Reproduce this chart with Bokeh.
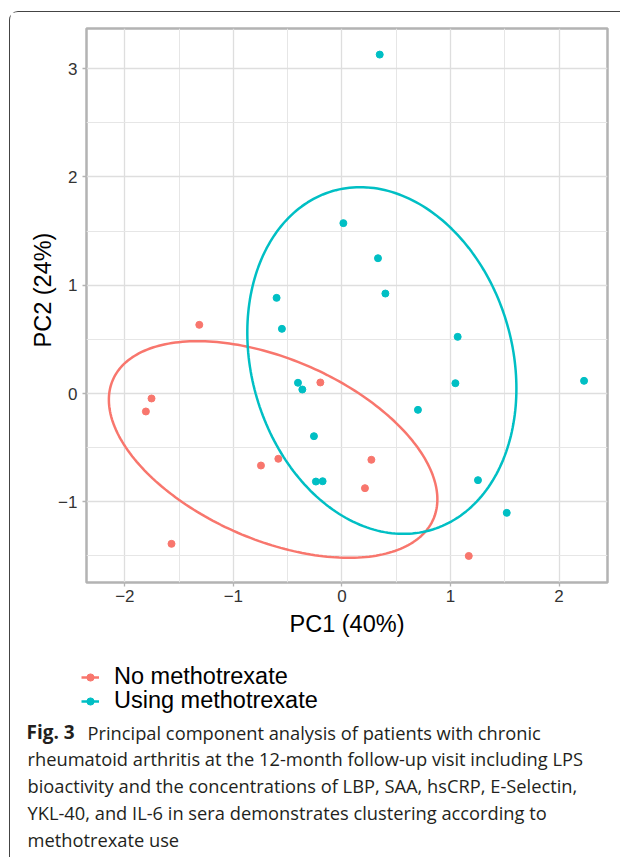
import numpy as np
from bokeh.plotting import figure
from bokeh.layouts import column
from bokeh.models import Range1d, FixedTicker, Legend, LegendItem, Title
from bokeh.core.properties import value
from bokeh.embed import file_html
from bokeh.resources import INLINE

# ---------------- data ----------------
group_labels = ["No methotrexate", "Using methotrexate"]
group_colors = ["#F8766D", "#00BFC4"]

no_mtx_pc1 = [-1.314, -1.754, -1.806, -0.199, -0.746, -0.586, 0.271, 0.212, -1.570, 1.168]
no_mtx_pc2 = [0.634, -0.046, -0.166, 0.102, -0.665, -0.603, -0.612, -0.874, -1.388, -1.500]

mtx_pc1 = [0.348, 0.013, 0.332, 0.400, -0.602, -0.553, 1.066, -0.405, -0.365,
           1.045, 2.230, 0.700, -0.258, -0.240, -0.178, 1.253, 1.518]
mtx_pc2 = [3.129, 1.573, 1.249, 0.923, 0.883, 0.597, 0.523, 0.099, 0.037,
           0.095, 0.117, -0.151, -0.394, -0.813, -0.810, -0.800, -1.102]

# 95% ellipses: centre and shape matrix [[sxx, sxy], [sxy, syy]]
no_mtx_ellipse = [-0.634, -0.517, 2.289, -0.695, 1.000]
mtx_ellipse = [0.3675, 0.3045, 1.536, -0.320, 2.562]

x_ticks = [-2, -1, 0, 1, 2]
x_tick_labels = ["\u22122", "\u22121", "0", "1", "2"]
x_minor = [-1.5, -0.5, 0.5, 1.5]
y_ticks = [-1, 0, 1, 2, 3]
y_tick_labels = ["\u22121", "0", "1", "2", "3"]
y_minor = [-1.5, -0.5, 0.5, 1.5, 2.5]

x_title = "PC1 (40%)"
y_title = "PC2 (24%)"

caption_bold = "Fig. 3"
caption_lines = [
    "Principal component analysis of patients with chronic",
    "rheumatoid arthritis at the 12-month follow-up visit including LPS",
    "bioactivity and the concentrations of LBP, SAA, hsCRP, E-Selectin,",
    "YKL-40, and IL-6 in sera demonstrates clustering according to",
    "methotrexate use",
]


def ellipse_path(params, n=240):
    cx, cy, sxx, sxy, syy = params
    L = np.linalg.cholesky(np.array([[sxx, sxy], [sxy, syy]]))
    t = np.linspace(0, 2 * np.pi, n)
    pts = L @ np.vstack([np.cos(t), np.sin(t)])
    return cx + pts[0], cy + pts[1]


def no_align(fig):
    try:
        fig.frame_align = False
    except Exception:
        pass


# ---------------- layout constants (page pixels) ----------------
OX, OY = 10, 12          # content origin of the boxed column
W = 610
FL, FT, FW, FH = 76, 16, 521, 554
P1_H = 633
P2_H = 212

# ---------------- main plot ----------------
p = figure(
    frame_width=FW, frame_height=FH,
    min_border_left=FL, min_border_right=W - FL - FW, min_border_top=FT,
    min_border_bottom=P1_H - FT - FH,
    x_range=Range1d(-2.353, 2.446), y_range=Range1d(-1.745, 3.370),
    output_backend="svg", toolbar_location=None,
    background_fill_color="white", border_fill_color="white",
)
no_align(p)

p.outline_line_color = "#b3b3b3"
p.outline_line_width = 2.5

p.xaxis.ticker = FixedTicker(ticks=x_ticks, minor_ticks=x_minor)
p.yaxis.ticker = FixedTicker(ticks=y_ticks, minor_ticks=y_minor)
p.xaxis.major_label_overrides = dict(zip(x_ticks, x_tick_labels))
p.yaxis.major_label_overrides = dict(zip(y_ticks, y_tick_labels))

for ax in (p.xaxis[0], p.yaxis[0]):
    ax.axis_line_color = None
    ax.major_tick_line_color = "#b3b3b3"
    ax.major_tick_line_width = 1.3
    ax.major_tick_out = 4
    ax.major_tick_in = 0
    ax.minor_tick_out = 0
    ax.minor_tick_in = 0
    ax.major_label_text_font = "Liberation Sans"
    ax.major_label_text_font_size = "17px"
    ax.major_label_text_color = "#333333"
p.xaxis.major_label_standoff = 3
p.yaxis.major_label_standoff = 5

p.xaxis.axis_label = x_title
p.xaxis.axis_label_standoff = 6
p.xaxis.axis_label_text_font = "Liberation Sans"
p.xaxis.axis_label_text_font_size = "23.5px"
p.xaxis.axis_label_text_font_style = "normal"
p.xaxis.axis_label_text_color = "black"

p.add_layout(Title(text=y_title, align="left", offset=235, standoff=0,
                   text_font="Liberation Sans", text_font_size="23.5px",
                   text_font_style="normal", text_color="black"), "left")

for g in (p.xgrid[0], p.ygrid[0]):
    g.grid_line_color = "#dedede"
    g.grid_line_width = 1.3
    g.minor_grid_line_color = "#e6e6e6"
    g.minor_grid_line_width = 1.0

p.scatter(no_mtx_pc1, no_mtx_pc2, size=7, color=group_colors[0], marker="circle")
p.scatter(mtx_pc1, mtx_pc2, size=7, color=group_colors[1], marker="circle")

ex, ey = ellipse_path(no_mtx_ellipse)
p.line(ex, ey, line_color=group_colors[0], line_width=2.5)
ex, ey = ellipse_path(mtx_ellipse)
p.line(ex, ey, line_color=group_colors[1], line_width=2.5)

# ---------------- legend + caption panel (coordinates = page pixels) ----------------
top2 = OY + P1_H
q = figure(
    width=W, height=P2_H, min_border=0,
    x_range=Range1d(OX, OX + W), y_range=Range1d(top2 + P2_H, top2),
    x_axis_location=None, y_axis_location=None,
    output_backend="svg", toolbar_location=None,
    background_fill_color="white", border_fill_color="white",
)
no_align(q)
q.outline_line_color = None
q.xgrid.visible = False
q.ygrid.visible = False

row_centres = [677, 701]
for lab, col, yc in zip(group_labels, group_colors, row_centres):
    lr = q.line([np.nan], [np.nan], line_color=col, line_width=2.5)
    sr = q.scatter([np.nan], [np.nan], color=col, size=7, marker="circle")
    leg = Legend(items=[LegendItem(label=lab, renderers=[lr, sr])],
                 location=(81 - OX, (top2 + P2_H) - (yc + 13)),
                 glyph_width=18, glyph_height=26, label_height=26,
                 label_standoff=15, padding=0, margin=0, spacing=0,
                 label_text_font="Liberation Sans", label_text_font_size="23.5px",
                 label_text_color="black",
                 border_line_color=None, background_fill_alpha=0)
    q.add_layout(leg)

cap_color = "#231f20"
baselines = [731.5, 758.3, 785.1, 811.9, 838.7]
cap_x = [87, 27, 27, 27, 27]
q.text(x=[26], y=[baselines[0]], text=[caption_bold], text_font=value("Open Sans"),
       text_font_style="bold", text_font_size="19px", text_baseline="alphabetic",
       text_align="left", text_color=cap_color)
q.text(x=cap_x, y=baselines, text=caption_lines, text_font=value("Open Sans"),
       text_font_size="18.3px", text_baseline="alphabetic", text_align="left",
       text_color=cap_color)

layout = column(p, q, spacing=0, styles={
    "margin-left": "9px",
    "margin-top": "11px",
    "border-top": "1px solid #444444",
    "border-left": "1px solid #444444",
    "border-top-left-radius": "9px",
})

open("out.html", "w").write(file_html(layout, INLINE))
